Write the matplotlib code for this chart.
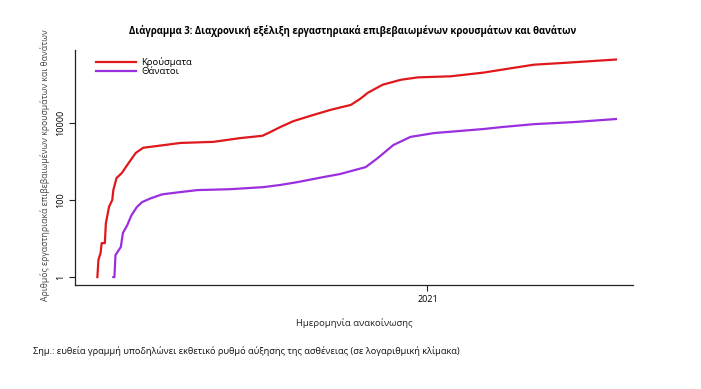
import matplotlib
matplotlib.use('Agg')
import matplotlib.pyplot as plt
import pandas as pd

plt.rcParams['font.family'] = ['Open Sans', 'DejaVu Sans']

title = "Διάγραμμα 3: Διαχρονική εξέλιξη εργαστηριακά επιβεβαιωμένων κρουσμάτων και θανάτων"
ylabel = "Αριθμός εργαστηριακά επιβεβαιωμένων κρουσμάτων και θανάτων"
xlabel = "Ημερομηνία ανακοίνωσης"
note = "Σημ.: ευθεία γραμμή υποδηλώνει εκθετικό ρυθμό αύξησης της ασθένειας (σε λογαριθμική κλίμακα)"
series_names = ["Κρούσματα", "Θάνατοι"]

case_dates = ["2020-02-26", "2020-02-27", "2020-02-29", "2020-03-01", "2020-03-04",
              "2020-03-05", "2020-03-08", "2020-03-11", "2020-03-12", "2020-03-15",
              "2020-03-20", "2020-03-25", "2020-04-02", "2020-04-09", "2020-04-22",
              "2020-05-14", "2020-06-14", "2020-07-09", "2020-07-30", "2020-08-05",
              "2020-08-16", "2020-08-28", "2020-09-16", "2020-10-02", "2020-10-21",
              "2020-10-30", "2020-11-06", "2020-11-20", "2020-12-07", "2020-12-23",
              "2021-01-23", "2021-02-23", "2021-03-17", "2021-04-11", "2021-05-12",
              "2021-06-27"]
case_values = [1, 2.8, 4.2, 7.6, 7.6,
               25, 67, 100, 180, 370,
               500, 800, 1650, 2250, 2500,
               3000, 3200, 4000, 4600, 5500,
               7800, 11000, 16000, 21600, 29000,
               42000, 60000, 97000, 130000, 150000,
               160000, 200000, 250000, 320000, 360000,
               435000]

death_dates = ["2020-03-12", "2020-03-13", "2020-03-14", "2020-03-17", "2020-03-19",
               "2020-03-21", "2020-03-25", "2020-03-29", "2020-04-03", "2020-04-08",
               "2020-04-16", "2020-04-27", "2020-05-14", "2020-05-30", "2020-06-30",
               "2020-07-31", "2020-08-16", "2020-09-01", "2020-09-25", "2020-10-11",
               "2020-11-04", "2020-11-15", "2020-11-30", "2020-12-16", "2021-01-07",
               "2021-02-23", "2021-03-11", "2021-04-11", "2021-05-18", "2021-06-27"]
death_values = [1, 1, 3.7, 5, 6,
                14, 22, 40, 65, 88,
                110, 140, 160, 180, 190,
                215, 245, 290, 390, 470,
                710, 1200, 2650, 4300, 5400,
                6900, 7700, 9200, 10400, 12500]

y_ticks = [1, 100, 10000]
x_tick_dates = ["2021-01-01"]
x_tick_labels = ["2021"]

fig = plt.figure(figsize=(7.01, 3.89), dpi=100)
ax = fig.add_axes([0.107, 0.267, 0.796, 0.604])

cd = pd.to_datetime(case_dates)
dd = pd.to_datetime(death_dates)
ax.plot(cd, case_values, color='#e0181c', lw=1.6, label=series_names[0])
ax.plot(dd, death_values, color='#9a2fe0', lw=1.6, label=series_names[1])

ax.set_yscale('log')
ax.set_ylim(0.62, 760000)
ax.set_xlim(pd.Timestamp("2020-02-05"), pd.Timestamp("2021-07-13"))

ax.set_yticks(y_ticks)
ax.set_yticklabels([str(v) for v in y_ticks], rotation=90, va='center', fontsize=6.5)
ax.yaxis.set_minor_locator(matplotlib.ticker.NullLocator())
ax.set_xticks(pd.to_datetime(x_tick_dates))
ax.set_xticklabels(x_tick_labels, fontsize=6.5)
ax.tick_params(axis='both', length=4, width=0.8, color='#222222', pad=3)

for s in ['top', 'right']:
    ax.spines[s].set_visible(False)
for s in ['left', 'bottom']:
    ax.spines[s].set_linewidth(0.9)
    ax.spines[s].set_color('#222222')

ax.legend(loc='upper left', bbox_to_anchor=(0.025, 1.0), frameon=False, fontsize=6.8,
          handlelength=4.2, handletextpad=0.6, labelspacing=0.0, borderaxespad=0.35)

fig.text(0.503, 0.92, title, ha='center', va='center', fontsize=6.9, fontweight='bold')
fig.text(0.064, 0.575, ylabel, rotation=90, ha='center', va='center', fontsize=6.2, color='#444444')
fig.text(0.506, 0.17, xlabel, ha='center', va='center', fontsize=6.8, color='#222222')
fig.text(0.047, 0.097, note, ha='left', va='center', fontsize=6.7, color='#111111')

fig.savefig('out.png', dpi=100)
